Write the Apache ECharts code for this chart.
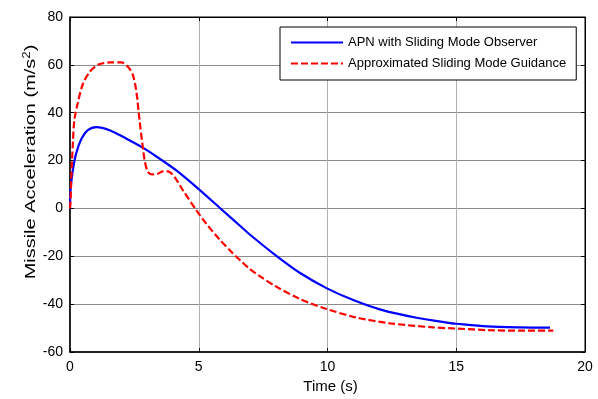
<!DOCTYPE html>
<html>
<head>
<meta charset="utf-8">
<script src="https://cdn.jsdelivr.net/npm/echarts@6/dist/echarts.min.js"></script>
<style>
html,body{margin:0;padding:0;background:#fff;}
#chart{width:598px;height:399px;}
</style>
</head>
<body>
<div id="chart"></div>
<script>
// Time (s) samples and values
const apnTime = [0, 0.02, 0.11, 0.24, 0.44, 0.69, 1.02, 1.54, 2.18, 2.83, 3.48, 4.13, 4.91, 5.81, 6.72, 6.98, 7.95, 8.92, 9.96, 11.0, 12.1, 13.46, 14.76, 15.0, 16.2, 17.5, 18.64];
const apnValue = [0, 7.5, 16, 23, 29, 32.7, 34, 32.7, 29.2, 25.4, 20.8, 15.9, 8.9, 0.3, -8.4, -10.9, -19.3, -26.9, -33.3, -38.3, -42.4, -45.7, -47.9, -48.2, -49.3, -49.7, -49.8];

const smgTime = [0, 0.02, 0.05, 0.11, 0.17, 0.3, 0.5, 0.76, 1.08, 1.54, 1.99, 2.25, 2.44, 2.57, 2.7, 2.81, 2.9, 3.03, 3.22, 3.41, 3.61, 3.8, 4.06, 4.39, 4.91, 5.3, 5.81, 6.3, 6.59, 6.98, 7.37, 7.95, 8.92, 9.96, 11.13, 12.42, 14.1, 15.0, 16.3, 17.5, 18.77];
const smgValue = [0, 3, 13, 27, 37, 44, 52, 57, 60, 61, 61, 59.2, 55.8, 49.4, 36.9, 27.1, 20.1, 15.2, 14.2, 14.5, 15.5, 15.5, 13.1, 7.5, -0.8, -6.5, -13, -18.5, -21.5, -25.3, -28.3, -32.3, -37.8, -42, -45.6, -48, -49.7, -50.2, -50.9, -51.1, -51.1];

const xTicks = [0, 5, 10, 15, 20];
const yTicks = [-60, -40, -20, 0, 20, 40, 60, 80];

const seriesNames = ['APN with Sliding Mode Observer', 'Approximated Sliding Mode Guidance'];
const xTitle = 'Time (s)';
const yTitle = 'Missile Acceleration (m/s{sup|2})';

const FONT = '"Liberation Sans", Arial, Helvetica, sans-serif';

const pairs = (t, v) => t.map((x, i) => [x, v[i]]);

const chart = echarts.init(document.getElementById('chart'), null, {renderer: 'canvas'});

const baseX = {type: 'value', min: xTicks[0], max: xTicks[xTicks.length - 1], interval: 5};
const baseY = {type: 'value', min: yTicks[0], max: yTicks[yTicks.length - 1], interval: 20};

chart.setOption({
  backgroundColor: '#fff',
  animation: false,
  grid: {left: 70, right: 13, top: 17, bottom: 47, show: true, borderColor: '#000', borderWidth: 1, backgroundColor: '#fff'},
  legend: {
    left: 280, top: 27, orient: 'vertical',
    itemWidth: 52, itemHeight: 14, itemGap: 8,
    padding: [9, 10, 10, 10],
    borderColor: '#000', borderWidth: 1, backgroundColor: '#fff', borderRadius: 0,
    itemStyle: {opacity: 0},
    textStyle: {fontFamily: FONT, fontSize: 13, color: '#000'},
    data: seriesNames
  },
  graphic: [{
    type: 'text',
    x: 31, y: 162,
    rotation: Math.PI / 2,
    scaleX: 1.33,
    silent: true,
    style: {
      text: yTitle,
      fontFamily: FONT, fontSize: 15, fill: '#000',
      align: 'center', verticalAlign: 'middle',
      rich: {sup: {fontFamily: FONT, fontSize: 10, fill: '#000', verticalAlign: 'top', padding: [0, 0, 7, 0]}}
    }
  }],
  xAxis: [
    Object.assign({}, baseX, {
      position: 'bottom',
      name: xTitle, nameLocation: 'middle', nameGap: 27,
      nameTextStyle: {fontFamily: FONT, fontSize: 15, color: '#000', padding: [0, 0, 0, 6]},
      axisLine: {show: true, onZero: false, lineStyle: {color: '#000', width: 1.5}},
      axisTick: {show: true, inside: true, length: 4, lineStyle: {color: '#000'}},
      axisLabel: {fontFamily: FONT, fontSize: 14, color: '#000', margin: 8},
      splitLine: {show: true, lineStyle: {color: '#b0b0b0', width: 1}}
    }),
    Object.assign({}, baseX, {
      position: 'top',
      axisLine: {show: true, onZero: false, lineStyle: {color: '#000', width: 1}},
      axisTick: {show: true, inside: true, length: 4, lineStyle: {color: '#000'}},
      axisLabel: {show: false}, splitLine: {show: false}
    })
  ],
  yAxis: [
    Object.assign({}, baseY, {
      position: 'left',
      axisLine: {show: true, onZero: false, lineStyle: {color: '#000', width: 1.5}},
      axisTick: {show: true, inside: true, length: 4, lineStyle: {color: '#000'}},
      axisLabel: {fontFamily: FONT, fontSize: 14, color: '#000', margin: 7},
      splitLine: {show: true, lineStyle: {color: '#8c8c8c', width: 1}}
    }),
    Object.assign({}, baseY, {
      position: 'right',
      axisLine: {show: true, onZero: false, lineStyle: {color: '#000', width: 1}},
      axisTick: {show: true, inside: true, length: 4, lineStyle: {color: '#000'}},
      axisLabel: {show: false}, splitLine: {show: false}
    })
  ],
  series: [
    {
      name: seriesNames[0], type: 'line',
      xAxisIndex: 0, yAxisIndex: 0,
      data: pairs(apnTime, apnValue),
      symbol: 'none', smooth: 0.3,
      lineStyle: {color: '#0000ff', width: 2.2, type: 'solid'},
      itemStyle: {color: '#0000ff'}, z: 3
    },
    {
      name: seriesNames[1], type: 'line',
      xAxisIndex: 0, yAxisIndex: 0,
      data: pairs(smgTime, smgValue),
      symbol: 'none', smooth: 0.3,
      lineStyle: {color: '#ff0000', width: 2.2, type: [7, 3]},
      itemStyle: {color: '#ff0000'}, z: 4
    }
  ]
});
</script>
</body>
</html>
